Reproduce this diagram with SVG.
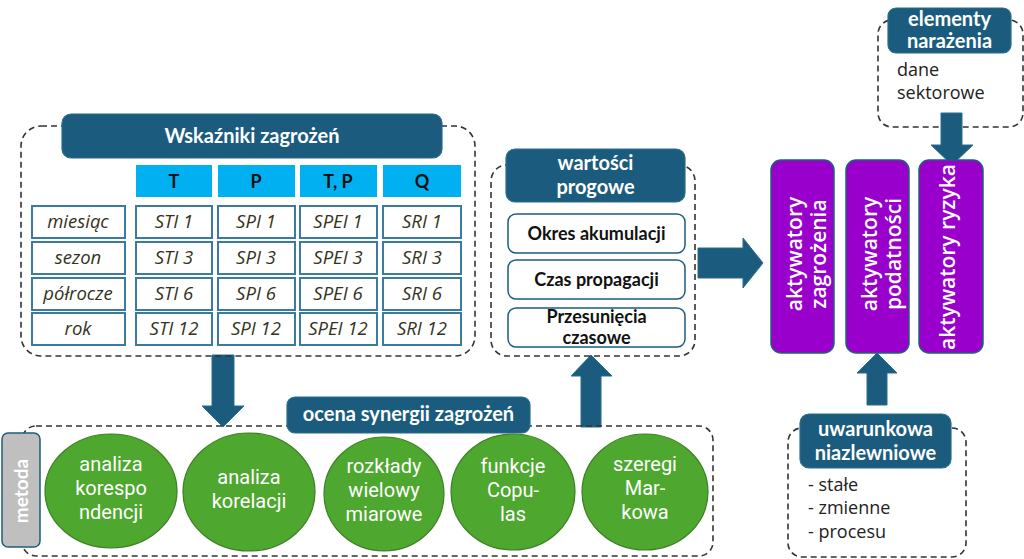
<svg xmlns="http://www.w3.org/2000/svg" width="1024" height="559" viewBox="0 0 1024 559">
<defs>
<style>
.dash{fill:none;stroke:#333;stroke-width:1.6;stroke-dasharray:6 4}
.title{fill:#1b5c7e;stroke:#2b6d8d;stroke-width:1.2}
.tt{font-family:Lato,"Liberation Sans",sans-serif;font-weight:700;font-size:20px;fill:#fff;text-anchor:middle}
.hdr{fill:#00b0f0}
.ht{font-family:Lato,"Liberation Sans",sans-serif;font-weight:700;font-size:18px;fill:#111;text-anchor:middle}
.cell{fill:#fff;stroke:#3b7ba0;stroke-width:2}
.ct{font-family:"Open Sans","Liberation Sans",sans-serif;font-style:italic;font-size:18.5px;fill:#33331c;text-anchor:middle}
.item{fill:#fff;stroke:#1b5c7e;stroke-width:1.5}
.it{font-family:Lato,"Liberation Sans",sans-serif;font-weight:700;font-size:18px;fill:#111;text-anchor:middle}
.purple{fill:#9900cc;stroke:#1f5e7a;stroke-width:1.5}
.pt{font-family:"Open Sans","Liberation Sans",sans-serif;font-weight:600;font-size:21px;fill:#fff;text-anchor:middle}
.green{fill:#4ea72e;stroke:#3c7f22;stroke-width:1.2}
.gt{font-family:Roboto,"Liberation Sans",sans-serif;font-size:20px;fill:#fff;text-anchor:middle}
.arrow{fill:#1b5c7e;stroke:#2b6d8d;stroke-width:1}
.plain{font-family:"Open Sans","Liberation Sans",sans-serif;font-size:18px;fill:#222}
</style>
</defs>

<g id="connectors">
<path class="arrow" d="M212,355 H234 V406 H244 L223,427 L202,406 H212 Z"/>
<path class="arrow" d="M581,427 V376 H571 L591,355 L612,376 H601 V427 Z"/>
<path class="arrow" d="M698,248 H743 V238 L763,263 L743,288 V278 H698 Z"/>
<path class="arrow" d="M867,405 V373 H857 L877,353 L897,373 H887 V405 Z"/>
</g>

<g id="wskazniki">
<rect class="dash" x="21" y="126" width="454" height="230" rx="20"/>
<rect class="title" x="62" y="114" width="380" height="44" rx="9"/>
<text class="tt" x="252" y="143">Wskaźniki zagrożeń</text>
<rect class="hdr" x="136" y="165" width="76" height="32"/>
<rect class="hdr" x="218" y="165" width="77" height="32"/>
<rect class="hdr" x="300" y="165" width="77" height="32"/>
<rect class="hdr" x="383" y="165" width="78" height="32"/>
<text class="ht" x="174" y="188">T</text>
<text class="ht" x="256" y="188">P</text>
<text class="ht" x="338" y="188">T, P</text>
<text class="ht" x="422" y="188">Q</text>
<g>
<rect class="cell" x="32" y="206" width="93" height="32"/>
<rect class="cell" x="136" y="206" width="76" height="32"/>
<rect class="cell" x="218" y="206" width="77" height="32"/>
<rect class="cell" x="300" y="206" width="77" height="32"/>
<rect class="cell" x="383" y="206" width="78" height="32"/>
<rect class="cell" x="32" y="242" width="93" height="32"/>
<rect class="cell" x="136" y="242" width="76" height="32"/>
<rect class="cell" x="218" y="242" width="77" height="32"/>
<rect class="cell" x="300" y="242" width="77" height="32"/>
<rect class="cell" x="383" y="242" width="78" height="32"/>
<rect class="cell" x="32" y="278" width="93" height="32"/>
<rect class="cell" x="136" y="278" width="76" height="32"/>
<rect class="cell" x="218" y="278" width="77" height="32"/>
<rect class="cell" x="300" y="278" width="77" height="32"/>
<rect class="cell" x="383" y="278" width="78" height="32"/>
<rect class="cell" x="32" y="313" width="93" height="32"/>
<rect class="cell" x="136" y="313" width="76" height="32"/>
<rect class="cell" x="218" y="313" width="77" height="32"/>
<rect class="cell" x="300" y="313" width="77" height="32"/>
<rect class="cell" x="383" y="313" width="78" height="32"/>
</g>
<text class="ct" x="78" y="228">miesiąc</text>
<text class="ct" x="174" y="228">STI 1</text>
<text class="ct" x="256" y="228">SPI 1</text>
<text class="ct" x="338" y="228">SPEI 1</text>
<text class="ct" x="422" y="228">SRI 1</text>
<text class="ct" x="78" y="264">sezon</text>
<text class="ct" x="174" y="264">STI 3</text>
<text class="ct" x="256" y="264">SPI 3</text>
<text class="ct" x="338" y="264">SPEI 3</text>
<text class="ct" x="422" y="264">SRI 3</text>
<text class="ct" x="78" y="300">półrocze</text>
<text class="ct" x="174" y="300">STI 6</text>
<text class="ct" x="256" y="300">SPI 6</text>
<text class="ct" x="338" y="300">SPEI 6</text>
<text class="ct" x="422" y="300">SRI 6</text>
<text class="ct" x="78" y="335">rok</text>
<text class="ct" x="174" y="335">STI 12</text>
<text class="ct" x="256" y="335">SPI 12</text>
<text class="ct" x="338" y="335">SPEI 12</text>
<text class="ct" x="422" y="335">SRI 12</text>
</g>

<g id="wartosci">
<rect class="dash" x="491" y="165" width="204" height="191" rx="16"/>
<rect class="title" x="506" y="149" width="179" height="53" rx="9"/>
<text class="tt" x="595.5" y="170">wartości</text>
<text class="tt" x="595.5" y="194">progowe</text>
<rect class="item" x="508" y="214" width="177" height="39" rx="8"/>
<text class="it" x="596.5" y="240">Okres akumulacji</text>
<rect class="item" x="508" y="260" width="177" height="39" rx="8"/>
<text class="it" x="596.5" y="286">Czas propagacji</text>
<rect class="item" x="508" y="308" width="177" height="39" rx="8"/>
<text class="it" x="596.5" y="323">Przesunięcia</text>
<text class="it" x="596.5" y="344">czasowe</text>
</g>

<g id="ocena">
<rect class="dash" x="22" y="426" width="691" height="130" rx="14"/>
<rect x="2" y="433" width="38" height="114" rx="6" fill="#bfbfbf" stroke="#1f5e7a" stroke-width="1.5"/>
<text transform="translate(28,491) rotate(-90)" text-anchor="middle" font-family="Lato,'Liberation Sans',sans-serif" font-weight="700" font-size="19" fill="#fff">metoda</text>
<ellipse class="green" cx="111" cy="491" rx="66" ry="57"/>
<ellipse class="green" cx="249" cy="492" rx="66" ry="59"/>
<ellipse class="green" cx="384" cy="494" rx="60" ry="57"/>
<ellipse class="green" cx="513" cy="492" rx="62" ry="58"/>
<ellipse class="green" cx="645" cy="492" rx="63" ry="58"/>
<text class="gt" x="111" y="471">analiza</text>
<text class="gt" x="111" y="495">korespo</text>
<text class="gt" x="111" y="519">ndencji</text>
<text class="gt" x="249" y="484">analiza</text>
<text class="gt" x="249" y="508">korelacji</text>
<text class="gt" x="384" y="473">rozkłady</text>
<text class="gt" x="384" y="497">wielowy</text>
<text class="gt" x="384" y="521">miarowe</text>
<text class="gt" x="513" y="473">funkcje</text>
<text class="gt" x="513" y="497">Copu-</text>
<text class="gt" x="513" y="521">las</text>
<text class="gt" x="645" y="471">szeregi</text>
<text class="gt" x="645" y="495">Mar-</text>
<text class="gt" x="645" y="519">kowa</text>
<rect class="title" x="287" y="397" width="243" height="36" rx="8"/>
<text class="tt" x="408.5" y="421">ocena synergii zagrożeń</text>
</g>

<g id="elementy">
<rect class="dash" x="878" y="20" width="145" height="107" rx="14"/>
<path class="arrow" d="M941,113 H962 V145 H973 L952,165 L931,145 H941 Z"/>
<rect class="title" x="888" y="8" width="123" height="45" rx="8"/>
<text class="tt" x="949.5" y="26">elementy</text>
<text class="tt" x="949.5" y="48">narażenia</text>
<text class="plain" x="897" y="76">dane</text>
<text class="plain" x="897" y="99">sektorowe</text>
</g>

<g id="aktywatory">
<rect class="purple" x="771" y="160" width="63" height="193" rx="10"/>
<rect class="purple" x="846" y="160" width="63" height="193" rx="10"/>
<rect class="purple" x="919" y="160" width="64" height="193" rx="10"/>
<text class="pt" transform="translate(802,254) rotate(-90)"><tspan x="0" y="0">aktywatory</tspan><tspan x="0" y="24">zagrożenia</tspan></text>
<text class="pt" transform="translate(877,254) rotate(-90)"><tspan x="0" y="0">aktywatory</tspan><tspan x="0" y="24">podatności</tspan></text>
<text class="pt" transform="translate(955,257) rotate(-90)">aktywatory ryzyka</text>
</g>

<g id="uwarunkowania">
<rect class="dash" x="788" y="428" width="178" height="129" rx="14"/>
<rect class="title" x="800" y="414" width="151" height="54" rx="9"/>
<text class="tt" x="875.5" y="436">uwarunkowa</text>
<text class="tt" x="875.5" y="460">niazlewniowe</text>
<text class="plain" x="808" y="491">- stałe</text>
<text class="plain" x="808" y="514">- zmienne</text>
<text class="plain" x="808" y="538">- procesu</text>
</g>
</svg>
